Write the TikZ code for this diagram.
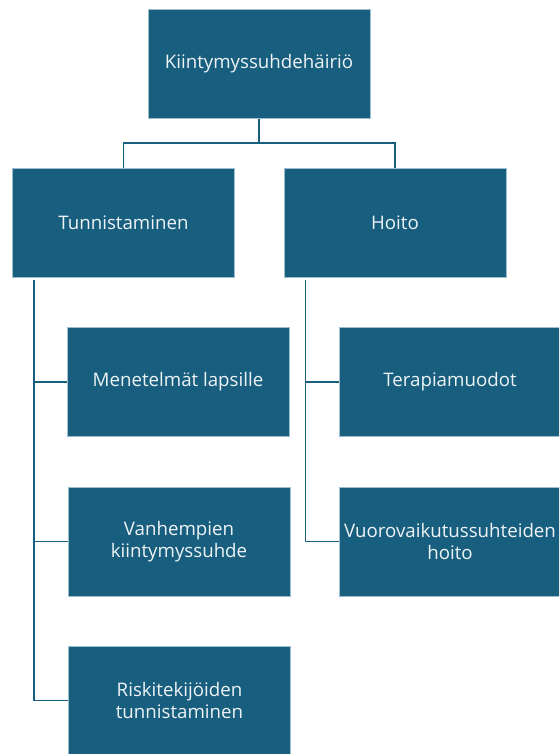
\documentclass[tikz,border=0pt]{standalone}
\usepackage{fontspec}
\setmainfont{Open Sans}
\definecolor{boxfill}{HTML}{185E7E}
\definecolor{boxedge}{HTML}{9FBFCF}
\definecolor{boxtext}{HTML}{EEF3F6}
\begin{document}
\begin{tikzpicture}[x=1pt,y=-1pt,
  box/.style={rectangle, fill=boxfill, draw=boxedge, line width=0.6pt,
    minimum width=222pt, minimum height=109pt, inner sep=2pt,
    text=boxtext, align=center, font=\fontsize{18.7}{22.5}\selectfont},
  conn/.style={draw=boxfill, line width=1.8pt}]
\useasboundingbox (0,0) rectangle (559,754);
\clip (0,0) rectangle (559,754);
\node[box] (top) at (259,64) {Kiintymyssuhdehäiriö};
\node[box] (tun) at (123.5,223) {Tunnistaminen};
\node[box] (hoi) at (395,223) {Hoito};
\node[box] (men) at (178,382) {Menetelmät lapsille};
\node[box] (van) at (179,541.5) {Vanhempien\\kiintymyssuhde};
\node[box] (ris) at (179.5,700.5) {Riskitekijöiden\\tunnistaminen};
\node[box] (ter) at (450,382) {Terapiamuodot};
\node[box] (vuo) at (450,541.5) {Vuorovaikutussuhteiden\\hoito};
\coordinate (split) at (259,143);
\coordinate (ltrunk) at (34,280);
\coordinate (rtrunk) at (305.5,280);
\draw[conn] (top.south) -- (split);
\draw[conn] (split) -| (tun.north);
\draw[conn] (split) -| (hoi.north);
\draw[conn] (ltrunk) |- (men.west);
\draw[conn] (ltrunk) |- (van.west);
\draw[conn] (ltrunk) |- (ris.west);
\draw[conn] (rtrunk) |- (ter.west);
\draw[conn] (rtrunk) |- (vuo.west);
\end{tikzpicture}
\end{document}
